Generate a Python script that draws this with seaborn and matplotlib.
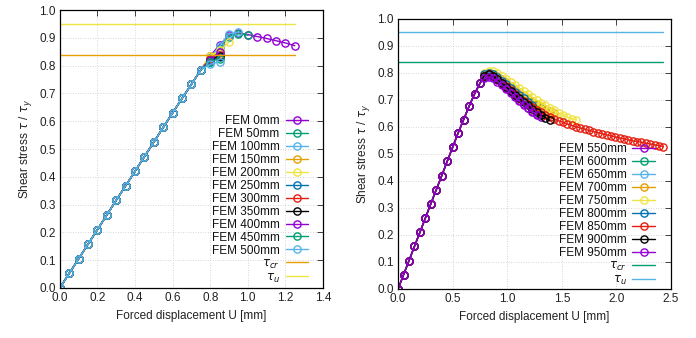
import numpy as np
import matplotlib
matplotlib.use("Agg")
import matplotlib.pyplot as plt
import seaborn as sns

# gnuplot default line colours, in plotting order
gp_colors = ["#9400d3", "#009e73", "#56b4e9", "#e69f00",
             "#f0e442", "#0072b2", "#e51e10", "#000000"]

tau_cr = 0.84
tau_u = 0.95

# ---- left panel: 0 .. 500 mm, every point 0.05 mm apart ----
left_rise = [0.0, 0.053, 0.105, 0.158, 0.21, 0.263, 0.316, 0.368, 0.42, 0.473,
             0.525, 0.578, 0.63, 0.682, 0.733, 0.785]
left_labels = ["FEM 0mm", "FEM 50mm", "FEM 100mm", "FEM 150mm", "FEM 200mm",
               "FEM 250mm", "FEM 300mm", "FEM 350mm", "FEM 400mm",
               "FEM 450mm", "FEM 500mm"]
# values after the common linear part, starting at U = 0.80 mm
left_tails = [
    [0.835, 0.875, 0.91, 0.918, 0.912, 0.905, 0.898, 0.89, 0.882, 0.872],
    [0.83, 0.86, 0.905, 0.915, 0.91],
    [0.83, 0.87, 0.915, 0.92],
    [0.835, 0.845],
    [0.835, 0.855, 0.885],
    [0.815, 0.83],
    [0.825, 0.84],
    [0.82, 0.835],
    [0.82, 0.85],
    [0.815, 0.825],
    [0.805, 0.815],
]
left_step = 0.05

# ---- right panel: 550 .. 950 mm ----
right_rise = [0.0, 0.053, 0.105, 0.158, 0.21, 0.263, 0.316, 0.368, 0.42, 0.473,
              0.525, 0.578, 0.627, 0.676, 0.722, 0.762]
right_labels = ["FEM 550mm", "FEM 600mm", "FEM 650mm", "FEM 700mm",
                "FEM 750mm", "FEM 800mm", "FEM 850mm", "FEM 900mm",
                "FEM 950mm"]
# values after the rise, starting at U = 0.79 mm, 0.04 mm apart
right_tails = [
    [0.785, 0.79, 0.785, 0.775, 0.76, 0.745, 0.73, 0.715, 0.70, 0.685, 0.672,
     0.66, 0.648, 0.638],
    [0.79, 0.797, 0.793, 0.784, 0.772, 0.76, 0.748, 0.736, 0.724, 0.712, 0.70,
     0.69, 0.68, 0.67],
    [0.79, 0.80, 0.795, 0.785, 0.773, 0.76, 0.747, 0.734, 0.722, 0.71, 0.70],
    [0.795, 0.80, 0.797, 0.788, 0.777, 0.765, 0.752, 0.74, 0.728, 0.717, 0.706,
     0.695, 0.685, 0.676, 0.667, 0.658, 0.65],
    [0.80, 0.808, 0.806, 0.798, 0.787, 0.776, 0.765, 0.754, 0.743, 0.732, 0.721,
     0.71, 0.70, 0.69, 0.68, 0.67, 0.661, 0.652, 0.644, 0.637, 0.631, 0.626],
    [0.795, 0.80, 0.795, 0.785, 0.772, 0.758, 0.745, 0.731, 0.718, 0.706,
     0.694, 0.683],
    [0.79, 0.795, 0.79, 0.778, 0.764, 0.75, 0.736, 0.722, 0.709, 0.697, 0.685,
     0.674, 0.664, 0.654, 0.645, 0.637, 0.63, 0.623, 0.617, 0.611, 0.606,
     0.601, 0.596, 0.592, 0.587, 0.583, 0.579, 0.575, 0.571, 0.567, 0.563,
     0.559, 0.556, 0.552, 0.549, 0.546, 0.543, 0.54, 0.537, 0.534, 0.531,
     0.527],
    [0.79, 0.795, 0.788, 0.776, 0.762, 0.748, 0.734, 0.72, 0.706, 0.693, 0.68,
     0.668, 0.656, 0.645, 0.634, 0.624],
    [0.78, 0.785, 0.78, 0.768, 0.754, 0.74, 0.725, 0.71, 0.696, 0.682, 0.669,
     0.657, 0.646],
]
right_rise_step = 0.05
right_tail_start = 0.79
right_tail_step = 0.04

sns.set_theme(style="white")
plt.rcParams["font.family"] = ["Liberation Sans", "DejaVu Sans"]
plt.rcParams["mathtext.fontset"] = "dejavusans"

fig = plt.figure(figsize=(6.96, 3.38), dpi=100)
ax1 = fig.add_axes([0.086, 0.148, 0.378, 0.822])
ax2 = fig.add_axes([0.572, 0.145, 0.392, 0.799])


def draw(ax, x, y, color, label):
    sns.lineplot(x=x, y=y, ax=ax, color=color, lw=1.0, marker="o", ms=5.2,
                 markerfacecolor="none", markeredgecolor=color, mew=1.0,
                 estimator=None, sort=False, label=label)


def style(ax, xmax, xstep):
    ax.set_xlim(0, xmax)
    ax.set_ylim(0, 1.0)
    ax.set_xticks(np.round(np.arange(0, xmax + 1e-9, xstep), 2))
    ax.set_yticks(np.round(np.arange(0, 1.0001, 0.1), 1))
    ax.xaxis.set_major_formatter(matplotlib.ticker.FormatStrFormatter("%.1f"))
    ax.yaxis.set_major_formatter(matplotlib.ticker.FormatStrFormatter("%.1f"))
    ax.grid(True, color="#c8c8c8", ls=(0, (1, 2)), lw=0.6)
    ax.tick_params(direction="in", top=True, right=True, length=4, width=0.6,
                   labelsize=8.5, colors="#222222", pad=3)
    for sp in ax.spines.values():
        sp.set_color("black")
        sp.set_linewidth(0.9)
    ax.set_xlabel("Forced displacement U [mm]", fontsize=8.5, color="#222222")
    ax.set_ylabel(r"Shear stress $\tau$ / $\tau_y$", fontsize=8.5,
                  color="#222222")


# left
all_x = []
for i, (lab, tail) in enumerate(zip(left_labels, left_tails)):
    y = np.array(left_rise + tail)
    x = np.round(np.arange(len(y)) * left_step, 3)
    all_x.append(x.max())
    draw(ax1, x, y, gp_colors[i % 8], lab)
n = len(left_labels)
xm = max(all_x)
ax1.plot([0, xm], [tau_cr, tau_cr], color=gp_colors[n % 8], lw=1.0,
         label=r"$\tau_{cr}$")
ax1.plot([0, xm], [tau_u, tau_u], color=gp_colors[(n + 1) % 8], lw=1.0,
         label=r"$\tau_u$")
style(ax1, 1.4, 0.2)

# right
all_x = []
for i, (lab, tail) in enumerate(zip(right_labels, right_tails)):
    x_rise = np.arange(len(right_rise)) * right_rise_step
    x_tail = right_tail_start + np.arange(len(tail)) * right_tail_step
    x = np.round(np.concatenate([x_rise, x_tail]), 3)
    y = np.array(right_rise + tail)
    all_x.append(x.max())
    draw(ax2, x, y, gp_colors[i % 8], lab)
n = len(right_labels)
xm = max(all_x)
ax2.plot([0, xm], [tau_cr, tau_cr], color=gp_colors[n % 8], lw=1.0,
         label=r"$\tau_{cr}$")
ax2.plot([0, xm], [tau_u, tau_u], color=gp_colors[(n + 1) % 8], lw=1.0,
         label=r"$\tau_u$")
style(ax2, 2.5, 0.5)

for ax, anchor in [(ax1, (0.943, 0.012)), (ax2, (0.941, 0.008))]:
    ax.legend(loc="lower right", bbox_to_anchor=anchor, frameon=False,
              markerfirst=False, fontsize=8.5, labelspacing=0.08,
              handlelength=1.9, handletextpad=0.5, borderpad=0,
              borderaxespad=0, labelcolor="#111111")

fig.savefig("out.png", dpi=100)
